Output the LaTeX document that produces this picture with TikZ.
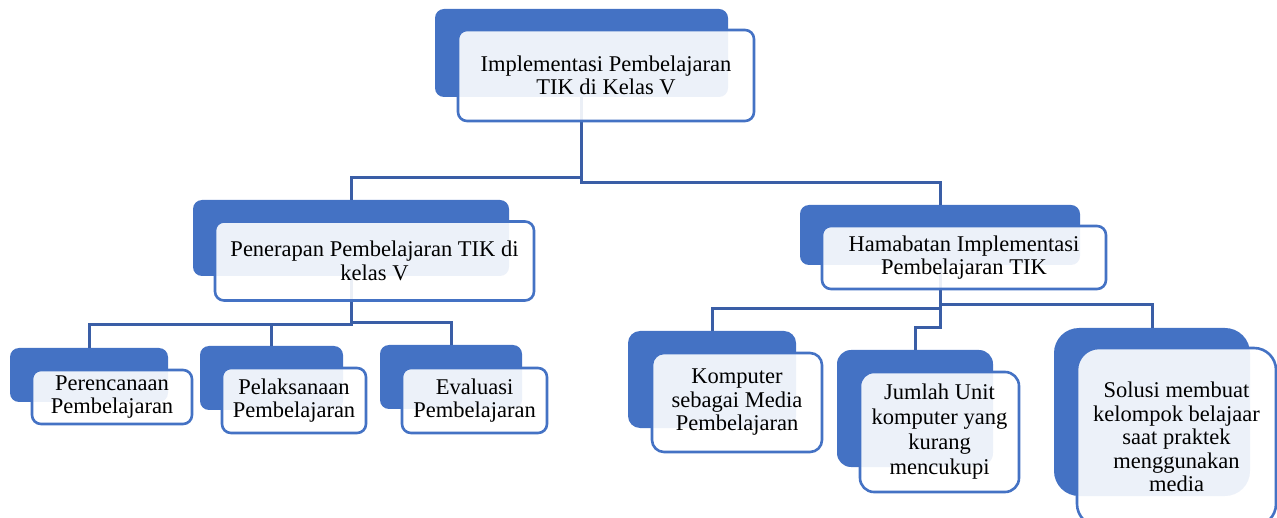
\documentclass[tikz,border=0pt]{standalone}
\usepackage{fontspec}
\setmainfont{Liberation Serif}
\definecolor{boxblue}{RGB}{68,114,196}
\definecolor{linkblue}{RGB}{58,94,166}
\tikzset{
  backbox/.style={fill=boxblue, rounded corners=9pt, inner sep=0pt},
  frontbox/.style={draw=boxblue, line width=2.6pt, fill=white, fill opacity=0.9,
                   text opacity=1, rounded corners=9pt, align=center, inner sep=0pt,
                   font=\fontsize{22.5}{23.5}\selectfont},
  link/.style={draw=linkblue, line width=3pt}
}
\begin{document}
\begin{tikzpicture}[x=1pt, y=-1pt]
    \useasboundingbox (0,0) rectangle (1277,518);

    % back boxes
    \node[backbox, minimum width=293, minimum height=88] (implB) at (581.5,53) {};
    \node[backbox, minimum width=316, minimum height=76] (penB) at (351,238) {};
    \node[backbox, minimum width=280, minimum height=60] (hamB) at (940,235) {};
    \node[backbox, minimum width=158, minimum height=54] (renB) at (89,375) {};
    \node[backbox, minimum width=143, minimum height=64] (lakB) at (271.5,378) {};
    \node[backbox, minimum width=142, minimum height=64] (evaB) at (451,377) {};
    \node[backbox, minimum width=168, minimum height=97, rounded corners=12pt] (komB) at (712,379.5) {};
    \node[backbox, minimum width=156, minimum height=117, rounded corners=14pt] (jmlB) at (915,408.5) {};
    \node[backbox, minimum width=196, minimum height=168, rounded corners=25pt] (solB) at (1152,412) {};

    % connectors
    \coordinate (busA) at (0,178);
    \coordinate (busB) at (0,183);
    \coordinate (busC) at (0,325);
    \coordinate (busD) at (0,323);
    \coordinate (busE) at (0,309);
    \coordinate (busF) at (0,328);
    \coordinate (busG) at (0,305);
    \draw[link] (implB.south) -- (implB.south |- busA) -| (penB.north);
    \draw[link] (implB.south) -- (implB.south |- busB) -| (hamB.north);
    \draw[link] (penB.south) -- (penB.south |- busC) -| (renB.north);
    \draw[link] (penB.south) -- (penB.south |- busC) -| (lakB.north);
    \draw[link] (penB.south) -- (penB.south |- busD) -| (evaB.north);
    \draw[link] (hamB.south) -- (hamB.south |- busE) -| (komB.north);
    \draw[link] (hamB.south) -- (hamB.south |- busF) -| (jmlB.north);
    \draw[link] (hamB.south) -- (hamB.south |- busG) -| (solB.north);

    % front boxes
    \node[frontbox, minimum width=296, minimum height=91] (impl) at (606,75.5) {Implementasi Pembelajaran\\TIK di Kelas V};
    \node[frontbox, minimum width=319, minimum height=79] (pen) at (374.5,261) {Penerapan Pembelajaran TIK di\\kelas V};
    \node[frontbox, minimum width=284, minimum height=63] (ham) at (964,257.5) {Hamabatan Implementasi\\Pembelajaran TIK};
    \node[frontbox, minimum width=160, minimum height=54] (ren) at (112,397) {Perencanaan\\Pembelajaran};
    \node[frontbox, minimum width=144, minimum height=65] (lak) at (294,400.5) {Pelaksanaan\\Pembelajaran};
    \node[frontbox, minimum width=145, minimum height=65] (eva) at (474.5,400.5) {Evaluasi\\Pembelajaran};
    \node[frontbox, minimum width=170, minimum height=99, rounded corners=12pt] (kom) at (737,402.5) {Komputer\\sebagai Media\\Pembelajaran};
    \node[frontbox, minimum width=159, minimum height=120, rounded corners=14pt,
          font=\fontsize{22.5}{25}\selectfont] (jml) at (939.5,432) {Jumlah Unit\\komputer yang\\kurang\\mencukupi};
    \node[frontbox, minimum width=199, minimum height=178, rounded corners=22pt] (sol) at (1176.5,437) {Solusi membuat\\kelompok belajaar\\saat praktek\\menggunakan\\media};

\end{tikzpicture}
\end{document}
